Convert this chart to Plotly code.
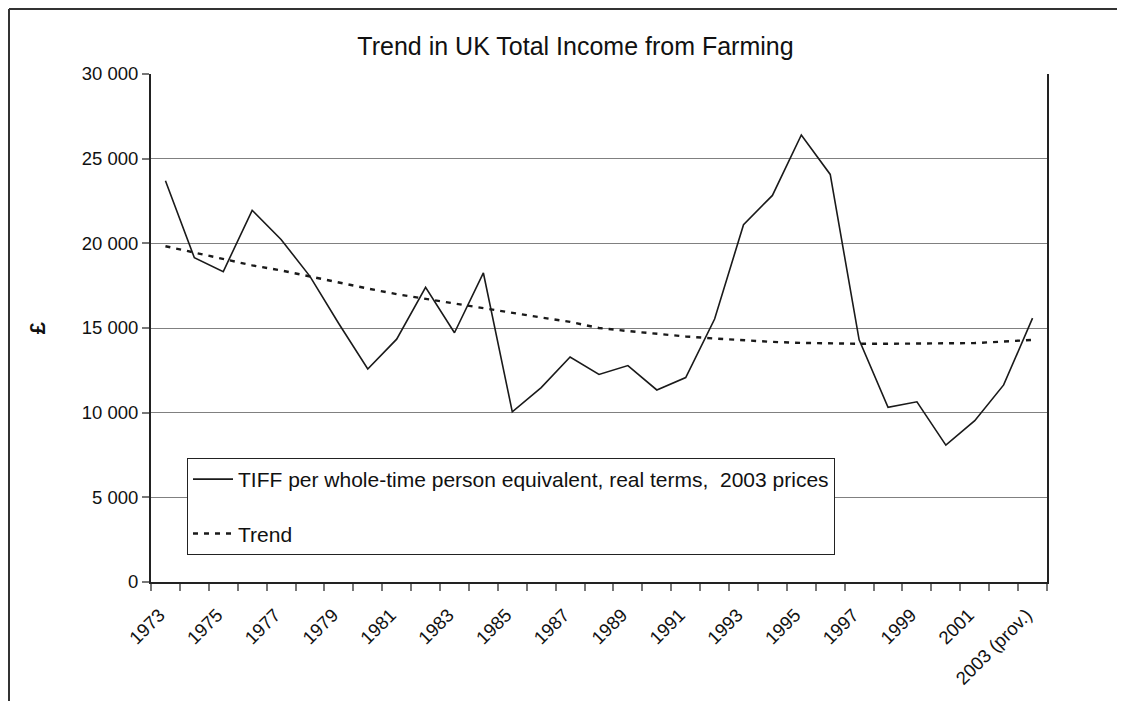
import plotly.graph_objects as go

years = list(range(1973, 2004))
tick_labels = [str(y) for y in years[:-1]] + ["2003 (prov.)"]

tiff = [23700, 19150, 18330, 21950, 20230, 18050, 15250, 12580, 14340, 17400,
        14720, 18250, 10050, 11480, 13290, 12260, 12780, 11340, 12070, 15530,
        21100, 22830, 26400, 24070, 14300, 10320, 10640, 8080, 9530, 11640, 15580]

trend = [19830, 19450, 19060, 18700, 18400, 18030, 17680, 17330, 17000, 16720,
         16430, 16150, 15880, 15620, 15360, 15000, 14820, 14650, 14500, 14380,
         14270, 14180, 14120, 14080, 14070, 14070, 14070, 14080, 14110, 14200, 14300]

y_ticks = [0, 5000, 10000, 15000, 20000, 25000, 30000]
y_tick_text = ["0", "5 000", "10 000", "15 000", "20 000", "25 000", "30 000"]

# page offset (body margin) between screenshot and figure coordinates
OFF = 8
W, H = 1117, 693
# plot area in screenshot pixels
PL, PR, PT, PB = 151, 1047, 74, 582
L, T = PL - OFF, PT - OFF
R, B = W - (PR - OFF), H - (PB - OFF)
pw, ph = W - L - R, H - T - B


def px(x):
    return (x - OFF - L) / pw


def py(y):
    return (H - B - (y - OFF)) / ph


fig = go.Figure()
fig.add_trace(go.Scatter(
    x=years, y=tiff, mode="lines",
    name="TIFF per whole-time person equivalent, real terms,  2003 prices",
    line=dict(color="#1a1a1a", width=1.6),
    legendgroup="a",
))
fig.add_trace(go.Scatter(
    x=years, y=trend, mode="lines", name="Trend",
    line=dict(color="#1a1a1a", width=2.4, dash="5px,6px"),
    legendgroup="b",
))

frame = "#333333"
shapes = [
    dict(type="line", xref="paper", yref="paper", x0=px(9), x1=px(1120), y0=py(9), y1=py(9),
         line=dict(color=frame, width=2)),
    dict(type="line", xref="paper", yref="paper", x0=px(9), x1=px(9), y0=py(9), y1=py(701),
         line=dict(color=frame, width=2)),
]

fig.update_layout(
    width=W, height=H,
    margin=dict(l=L, r=R, t=T, b=B, autoexpand=False),
    paper_bgcolor="white", plot_bgcolor="white",
    font=dict(family="Liberation Sans, Arial, sans-serif", color="#111111", size=18),
    title=dict(text="Trend in UK Total Income from Farming", xref="container",
               x=(575.5 - OFF) / W, xanchor="center",
               y=1 - (46 - OFF) / H, yanchor="middle", font=dict(size=25, color="#111111")),
    showlegend=True,
    legend=dict(
        x=px(187), y=py(458), xanchor="left", yanchor="top",
        bgcolor="white", bordercolor="#222222", borderwidth=1,
        font=dict(size=21, color="#111111"),
        tracegroupgap=24, itemwidth=40,
    ),
    shapes=shapes,
)

fig.update_xaxes(
    range=[1972.5, 2003.5], tickmode="array", tickvals=years[::2], ticktext=tick_labels[::2],
    tickangle=-45, ticks="", showgrid=False, zeroline=False, automargin=False,
    showline=True, linecolor="#222222", linewidth=2,
    tickfont=dict(size=18.5), ticklabelshift=-6, ticklabelstandoff=13,
    minor=dict(ticks="outside", tickmode="linear", tick0=1972.5, dtick=1, ticklen=7,
               tickcolor="#777777", tickwidth=1.5, showgrid=False),
)
fig.update_yaxes(
    range=[0, 30000], tickmode="array", tickvals=y_ticks, ticktext=y_tick_text,
    ticks="outside", ticklen=7, tickcolor="#777777", tickwidth=1.5,
    showgrid=True, gridcolor="#808080", gridwidth=1.2, zeroline=False, automargin=False,
    showline=True, linecolor="#222222", linewidth=2, mirror=True,
    tickfont=dict(size=18.5),
    title=dict(text="<b>£</b>", font=dict(size=22), standoff=30),
)

fig.write_html("out.html")
